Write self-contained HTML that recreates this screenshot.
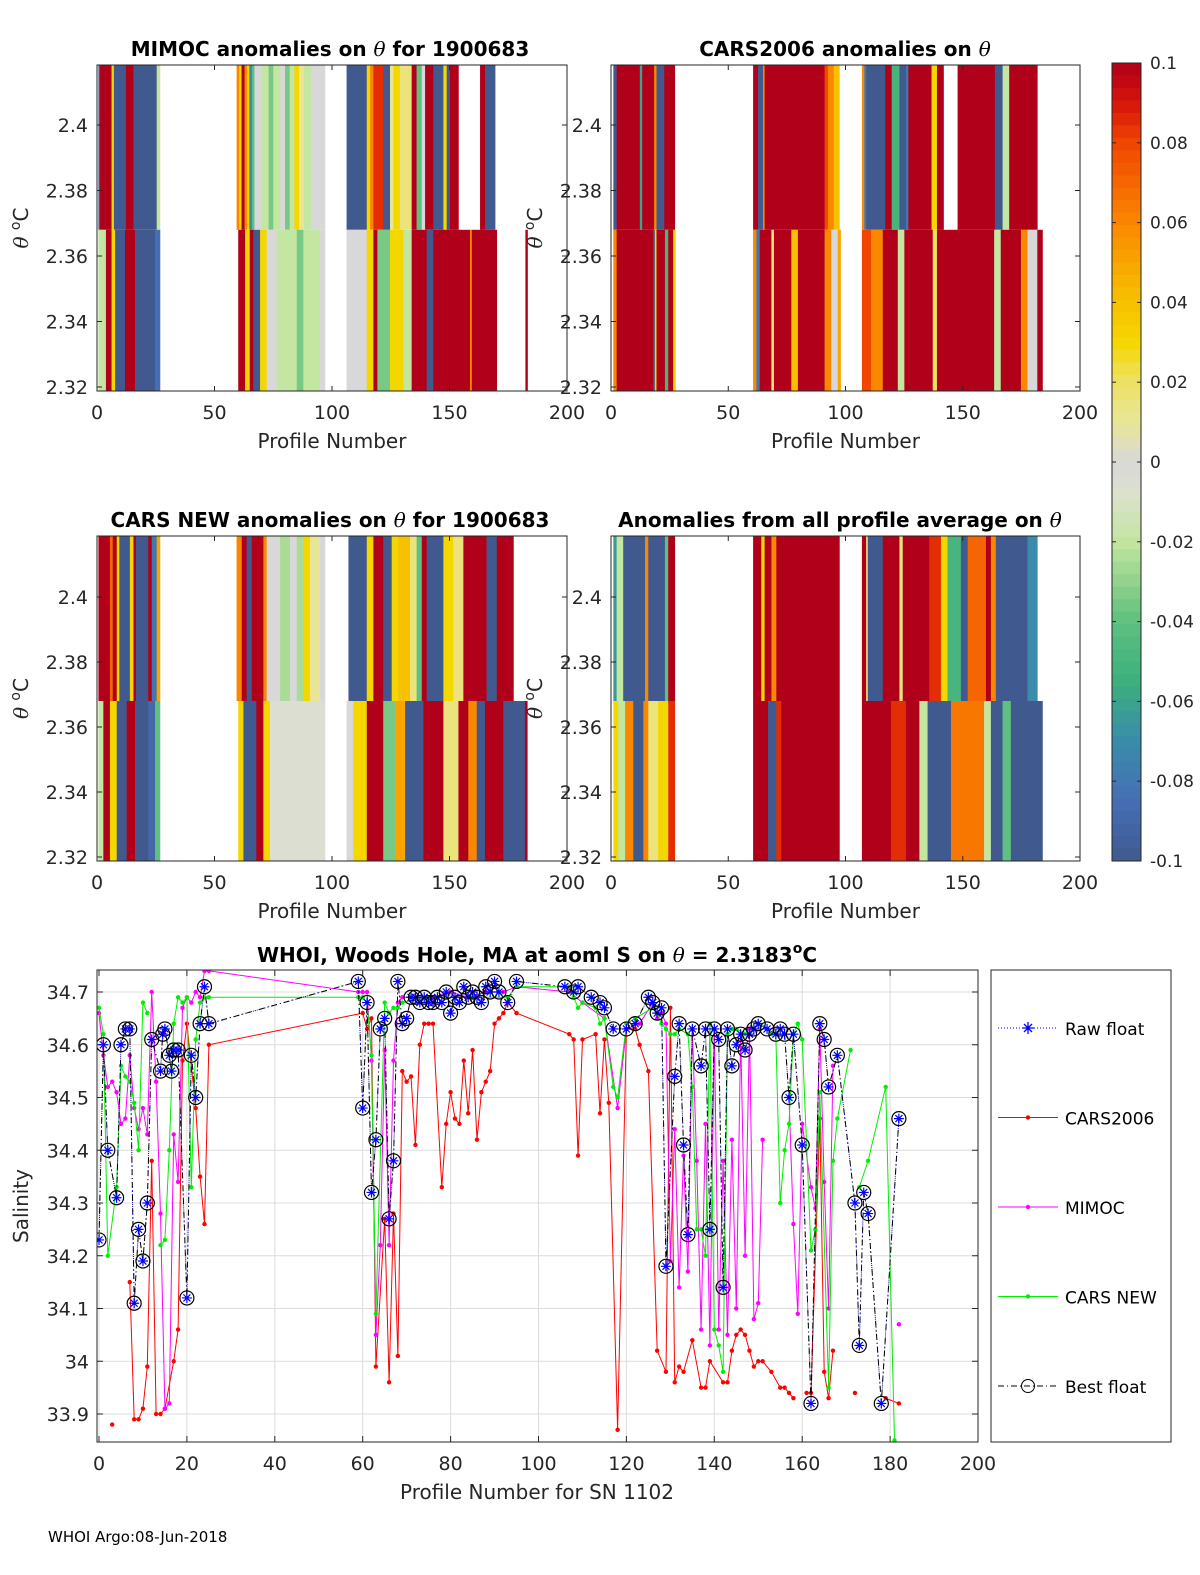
<!DOCTYPE html>
<html><head><meta charset="utf-8"><style>
body{margin:0;background:#fff;}
svg{display:block;font-family:"DejaVu Sans","Liberation Sans",sans-serif;}
</style></head><body>
<svg id="fig" width="1200" height="1575" viewBox="0 0 1200 1575" xmlns="http://www.w3.org/2000/svg">
<g id="g"></g>
<text x="48" y="1542" font-size="15" fill="#000">WHOI Argo:08-Jun-2018</text>
</svg>
<script>
// ---------- heatmap data: [startProfile, endProfile, anomaly] ----------
const mimocTop=[[0.6,1.3,-0.1],[1.3,6.2,0.1],[6.2,7.2,0.03],[7.2,12.3,-0.1],[12.3,15.5,0.1],[15.5,25.4,-0.1],[25.4,26.8,-0.02],
[59.4,60.5,0.06],[60.5,61.5,0.03],[61.5,62.8,0.1],[62.8,63.8,0.06],[63.8,64.8,0.03],[64.8,66,-0.07],[66,67,-0.04],[67,70,0],[70,73,-0.02],[73,75,-0.035],[75,78,-0.02],[78,80,0],[80,82,-0.035],[82,84,-0.02],[84,86,0.03],[86,88,0.01],[88,91,-0.02],[91,97,0],
[106.2,114.8,-0.1],[114.8,116.2,0.03],[116.2,117.6,0.06],[117.6,121.8,0.085],[121.8,124.7,-0.1],[124.7,126.1,0.01],[126.1,128.9,0.03],[128.9,133.9,0.015],[133.9,136,0.1],[136,138.2,-0.04],[138.2,139.6,0],[139.6,143.1,0.1],[143.1,147.4,-0.1],[147.4,148.8,0.03],[148.8,150.2,-0.1],[150.2,153.8,0.1],[163,165.1,0.1],[165.1,169.4,-0.1]];
const mimocBot=[[0.6,3.8,-0.02],[3.8,6.2,0.1],[6.2,7.7,0.03],[7.7,11.9,-0.1],[11.9,16.2,0.1],[16.2,24.7,-0.1],[24.7,26.8,-0.085],
[60.1,63,0.1],[63,65,0.03],[65,66.5,0.1],[66.5,69.4,-0.1],[69.4,72.2,0.03],[72.2,76.5,0],[76.5,85,-0.02],[85,87.8,-0.035],[87.8,94.9,-0.02],[94.9,97,0],
[106.2,114.8,0],[114.8,117.6,0.03],[117.6,119.3,0.1],[119.3,124.7,-0.035],[124.7,130.4,0.03],[130.4,133.9,-0.02],[133.9,140.3,0.1],[140.3,143.1,-0.1],[143.1,147.4,0.1],[147.4,158.7,0.1],[158.7,159.5,0.06],[159.5,170.1,0.1],[182.3,183.2,0.1]];
const cars06Top=[[1,2.4,-0.1],[2.4,12.3,0.1],[12.3,13.3,-0.06],[13.3,18.4,0.1],[18.4,19.4,0.06],[19.4,22.7,-0.1],[22.7,27.2,0.1],
[60.6,62.7,0.1],[62.7,64.8,-0.1],[64.8,65.5,0.06],[65.5,91.1,0.1],[91.1,92.5,0.08],[92.5,95,0.06],[95,97.4,0.04],
[107,108,0.06],[108,108.8,-0.08],[108.8,116.9,-0.1],[116.9,119.7,0.1],[119.7,123,-0.05],[123,125.8,-0.1],[125.8,126.8,-0.08],[126.8,136.7,0.1],[136.7,139,0.03],[139,141.8,0.1],[147.8,163.7,0.1],[163.7,167,-0.1],[167,169.8,-0.02],[169.8,181.8,0.1]];
const cars06Bot=[[1,2.4,0.06],[2.4,18,0.1],[18,18.7,-0.1],[18.7,19.4,0.03],[19.4,23,0.1],[23,24.4,-0.05],[24.4,26.5,0.1],[26.5,27.5,0.03],
[60.6,62,0.06],[62,63.4,-0.08],[63.4,68.4,0.1],[68.4,69.5,0.015],[69.5,76.9,0.1],[76.9,79.7,0.04],[79.7,91.1,0.1],[91.1,93.9,0.06],[93.9,96.7,0],[96.7,97.9,0.05],
[107,110.9,0.08],[110.9,115.9,0.06],[115.9,122.3,0.1],[122.3,125.1,-0.02],[125.1,137.2,0.1],[137.2,139,0.02],[139,163.4,0.1],[163.4,166.2,-0.02],[166.2,174.8,0.1],[174.8,177.6,0.06],[177.6,181.8,0],[181.8,184,0.1]];
const carsNewTop=[[0.6,5.5,0.1],[5.5,6.7,0.07],[6.7,8.4,0.1],[8.4,9.5,0.03],[9.5,14,-0.1],[14,15.5,0.03],[15.5,16.6,0.1],[16.6,21.8,-0.1],[21.8,23.3,0.1],[23.3,25.4,-0.08],[25.4,26.8,0.05],
[59.4,61.6,0.06],[61.6,63.7,0.1],[63.7,65.8,-0.1],[65.8,70.8,0.1],[70.8,72.2,0.06],[72.2,77.9,0],[77.9,82.1,-0.025],[82.1,85,0],[85,87.8,-0.025],[87.8,90.6,0.03],[90.6,94.9,0.01],[94.9,97,0],
[107,114.8,-0.1],[114.8,117.6,0.03],[117.6,121.8,0.1],[121.8,125.4,-0.1],[125.4,128.2,0.03],[128.2,133.2,0.04],[133.2,136,0.015],[136,138.2,-0.04],[138.2,140.3,0.1],[140.3,147.4,-0.1],[147.4,151.6,0.03],[151.6,155.9,0.015],[155.9,165.8,0.1],[165.8,170.1,-0.1],[170.1,177.2,0.1]];
const carsNewBot=[[0.6,2.7,-0.02],[2.7,5.5,0.1],[5.5,8.4,0.03],[8.4,12.6,-0.1],[12.6,16.2,0.1],[16.2,21.8,-0.1],[21.8,24.7,-0.09],[24.7,26.8,-0.04],
[60.1,62.3,0.03],[62.3,67.8,-0.1],[67.8,70.8,0.1],[70.8,73.6,0.03],[73.6,97,-0.005],
[106.2,109.1,0],[109.1,114.8,0.03],[114.8,121.8,0.1],[121.8,126.8,-0.035],[126.8,131.1,0.05],[131.1,138.9,-0.1],[138.9,147.4,0.1],[147.4,153.8,0.015],[153.8,158,0.1],[158,161.6,0.06],[161.6,165.1,-0.1],[165.1,172.9,0.1],[172.9,182.1,-0.1],[182.1,183.1,0.1]];
const allTop=[[1,2.4,-0.065],[2.4,5.2,-0.02],[5.2,9.5,-0.1],[9.5,14.5,-0.1],[14.5,15.9,0.06],[15.9,23,-0.1],[23,24.4,-0.04],[24.4,27.2,0.1],
[60.6,64.1,0.1],[64.1,65.5,0.03],[65.5,68.4,0.1],[68.4,70.5,0.06],[70.5,97.4,0.1],
[107,108.8,0.1],[108.8,109.5,0.015],[109.5,115.9,-0.1],[115.9,123,0.1],[123,124.4,0.015],[124.4,135.7,0.1],[135.7,140.7,0.085],[140.7,143.5,0.03],[143.5,149.2,-0.05],[149.2,152.1,-0.1],[152.1,159.9,0.07],[159.9,162,0.1],[162,164.1,0.06],[164.1,170.5,-0.1],[170.5,177.6,-0.1],[177.6,181.8,-0.07]];
const allBot=[[1,3.1,0.03],[3.1,6,-0.02],[6,9.5,0.06],[9.5,13.8,-0.1],[13.8,15.9,0.06],[15.9,20.1,0.015],[20.1,24.4,0.03],[24.4,27.2,0.085],
[60.6,67,0.1],[67,70.5,-0.1],[70.5,72.6,0.085],[72.6,97.4,0.1],
[107,119.4,0.1],[119.4,125.8,0.085],[125.8,131.5,0.1],[131.5,135,-0.02],[135,145,-0.1],[145,159.1,0.065],[159.1,162,-0.02],[162,167,-0.1],[167,170.5,-0.04],[170.5,184,-0.1]];

// ---------- salinity data: [profile, salinity] ----------
const bestFloat=[[0,34.23],[1,34.6],[2,34.40],[4,34.31],[5,34.60],[6,34.63],[7,34.63],[8,34.11],[9,34.25],[10,34.19],[11,34.30],[12,34.61],[14,34.55],[14.5,34.62],[15,34.63],[16,34.58],[16.5,34.55],[17,34.59],[18,34.59],[20,34.12],[21,34.58],[22,34.50],[23,34.64],[24,34.71],[25,34.64],[59,34.72],[60,34.48],[61,34.68],[62,34.32],[63,34.42],[64,34.63],[65,34.65],[66,34.27],[67,34.38],[68,34.72],[69,34.64],[70,34.65],[71,34.69],[72,34.69],[73,34.68],[74,34.69],[75,34.68],[76,34.68],[77,34.69],[78,34.68],[79,34.70],[80,34.66],[81,34.69],[82,34.68],[83,34.71],[84,34.69],[85,34.70],[86,34.69],[87,34.68],[88,34.71],[89,34.70],[90,34.72],[91,34.70],[93,34.68],[95,34.72],[106,34.71],[108,34.70],[109,34.71],[112,34.69],[114,34.68],[115,34.67],[117,34.63],[120,34.63],[122,34.64],[125,34.69],[126,34.68],[127,34.66],[128,34.67],[129,34.18],[131,34.54],[132,34.64],[133,34.41],[134,34.24],[135,34.63],[137,34.56],[138,34.63],[139,34.25],[140,34.63],[141,34.61],[142,34.14],[143,34.63],[144,34.56],[145,34.60],[146,34.62],[147,34.59],[148,34.62],[149,34.63],[150,34.64],[152,34.63],[154,34.62],[155,34.63],[156,34.62],[157,34.50],[158,34.62],[160,34.41],[162,33.92],[164,34.64],[165,34.61],[166,34.52],[168,34.58],[172,34.30],[173,34.03],[174,34.32],[175,34.28],[178,33.92],[182,34.46]];
const cars2006=[[3,33.88],null,[7,34.15],[8,33.89],[9,33.89],[10,33.91],[11,33.99],[12,34.38],[13,33.90],[14,33.90],[15,33.91],[17,34.00],[18,34.06],[19,34.57],[20,34.64],[22,34.48],[23,34.35],[24,34.26],[25,34.60],[60,34.66],[61,34.63],[62,34.65],[63,33.99],[65,34.27],[66,33.96],[67,34.28],[68,34.01],[69,34.55],[70,34.53],[71,34.54],[72,34.41],[73,34.60],[74,34.64],[75,34.64],[76,34.64],[78,34.33],[79,34.45],[80,34.51],[81,34.46],[82,34.45],[83,34.57],[84,34.47],[85,34.59],[86,34.42],[87,34.51],[88,34.53],[89,34.55],[90,34.64],[91,34.65],[92,34.66],[93,34.68],[95,34.66],[107,34.62],[108,34.61],[109,34.39],[110,34.61],[113,34.62],[114,34.47],[115,34.61],[116,34.49],[118,33.87],[120,34.63],[122,34.63],[123,34.60],[125,34.55],[127,34.02],[129,33.98],[130,34.67],[131,33.96],[132,33.99],[133,33.98],[135,34.04],[137,33.95],[138,33.95],[139,34.00],[142,33.96],[143,33.96],[144,34.02],[145,34.05],[146,34.06],[147,34.05],[148,34.02],[149,33.99],[150,34.00],[151,34.00],[153,33.98],[155,33.95],[156,33.95],[157,33.94],[158,33.93],null,[161,33.94],[162,33.94],[164,34.46],[165,33.98],[166,33.93],[167,34.02],null,[172,33.94],null,[179,33.93],[182,33.92]];
const mimoc=[[0,34.66],[1,34.58],[2,34.52],[3,34.53],[4,34.51],[5,34.45],[6,34.46],[7,34.58],[8,34.48],[9,34.44],[10,34.48],[11,34.43],[12,34.70],[13,34.53],[14,34.28],[15,33.91],[16,33.92],[17,34.43],[18,34.34],[19,34.67],[20,34.69],[21,34.68],[22,34.70],[23,34.69],[24,34.74],[25,34.74],[59,34.70],[60,34.70],[61,34.70],[62,34.57],[63,34.05],[64,34.22],[65,34.59],[66,34.22],[67,34.57],[68,34.68],[69,34.69],[72,34.69],[76,34.69],[80,34.70],[84,34.69],[88,34.70],[92,34.70],[95,34.71],[107,34.70],[110,34.68],[115,34.65],[118,34.48],[120,34.63],[123,34.64],[126,34.68],[127,34.65],[128,34.66],[129,34.64],[130,34.19],[131,34.44],[132,34.14],[133,34.39],[134,34.17],[135,34.63],[136,34.38],[137,34.06],[138,34.45],[139,34.03],[140,34.63],[141,34.06],[142,34.38],[143,34.05],[144,34.42],[145,34.10],[146,34.62],[147,34.20],[148,34.63],[149,34.08],[150,34.11],[151,34.42],null,[157,34.50],[158,34.26],[159,34.09],[160,34.45],[162,34.33],[163,34.29],[164,34.63],[165,34.34],[166,34.10],[167,34.56],null,[182,34.07]];
const carsNew=[[0,34.67],[1,34.62],[2,34.20],[4,34.33],[5,34.56],[6,34.54],[7,34.53],[8,34.49],[9,34.40],[10,34.68],[11,34.66],null,[14,34.22],[15,34.23],[16,34.40],[17,34.64],[18,34.69],[19,34.68],[20,34.69],[21,34.33],[22,34.61],[23,34.68],[24,34.69],[25,34.69],[59,34.69],[60,34.69],[61,34.68],[62,34.58],[63,34.09],[65,34.68],[66,34.66],[67,34.67],[68,34.67],[69,34.68],[75,34.69],[85,34.69],[93,34.69],[95,34.71],[107,34.71],[108,34.69],[109,34.67],[110,34.68],[113,34.67],[114,34.64],[115,34.65],[117,34.52],[118,34.50],[120,34.64],[122,34.65],[126,34.67],[127,34.66],[128,34.64],[129,34.63],[130,34.62],[131,34.62],[132,34.63],[134,34.62],[135,34.52],[136,34.25],[137,34.25],[138,34.20],[139,34.64],[140,34.06],[141,34.03],[142,33.98],[143,34.62],[144,34.63],[145,34.63],[147,34.62],[149,34.63],[150,34.64],[152,34.63],[153,34.62],[154,34.62],[155,34.30],[156,34.40],[157,34.45],[158,34.62],[159,34.64],[160,34.61],[162,34.21],[163,34.25],[164,34.51],[166,33.95],[167,34.38],[168,34.46],[171,34.59],null,[173,34.33],[175,34.38],[179,34.52],[181,33.85]];
const cbTicks=[0.1,0.08,0.06,0.04,0.02,0,-0.02,-0.04,-0.06,-0.08,-0.1];
const salTicks=[34.7,34.6,34.5,34.4,34.3,34.2,34.1,34,33.9];
const profTicks=[0,20,40,60,80,100,120,140,160,180,200];
const thetaTicks=[2.32,2.34,2.36,2.38,2.4];
const hmXTicks=[0,50,100,150,200];

const NS='http://www.w3.org/2000/svg';
const G=document.getElementById('g');
function mk(tag,attrs,parent,txt){const e=document.createElementNS(NS,tag);for(const k in attrs)e.setAttribute(k,attrs[k]);if(txt!==undefined)e.textContent=txt;(parent||G).appendChild(e);return e;}

const stops=[[-0.1,[64,90,143]],[-0.085,[70,110,180]],[-0.07,[58,140,170]],[-0.055,[60,176,125]],[-0.04,[95,192,128]],[-0.03,[145,210,140]],[-0.02,[195,230,160]],[-0.008,[220,225,205]],[0,[216,216,216]],[0.01,[232,230,150]],[0.02,[238,225,100]],[0.03,[245,215,0]],[0.045,[248,180,0]],[0.06,[250,135,0]],[0.08,[240,70,0]],[0.09,[215,20,10]],[0.1,[176,0,26]]];
function cmap(v){v=Math.max(-0.1,Math.min(0.1,v));for(let i=1;i<stops.length;i++){if(v<=stops[i][0]){const a=stops[i-1],b=stops[i];const t=(v-a[0])/(b[0]-a[0]);const c=a[1].map((x,j)=>Math.round(x+(b[1][j]-x)*t));return 'rgb('+c.join(',')+')';}}return 'rgb(176,0,26)';}

function heat(id,x0,x1,top,bot,y232,y24,tData,bData,title,titleX,xlab,ylabX){
  const sx=p=>x0+(x1-x0)*p/200;
  const sy=t=>y232-(t-2.32)*(y232-y24)/0.08;
  const g=mk('g',{});
  
  
  const mid=sy(2.368);
  tData.forEach(s=>{const r=mk('rect',{x:sx(s[0]),y:top,width:sx(s[1])-sx(s[0])+0.3,height:mid-top,fill:cmap(s[2])},g);
    });
  bData.forEach(s=>{const r=mk('rect',{x:sx(s[0]),y:mid,width:sx(s[1])-sx(s[0])+0.3,height:bot-mid,fill:cmap(s[2])},g);
    });
  const fr=mk('rect',{x:x0,y:top,width:x1-x0,height:bot-top,fill:'none',stroke:'#262626','stroke-width':1},g);
  
  thetaTicks.forEach(t=>{const y=sy(t);mk('line',{x1:x0,x2:x0+5,y1:y,y2:y,stroke:'#262626'},g);mk('line',{x1:x1,x2:x1-5,y1:y,y2:y,stroke:'#262626'},g);
    const tl=mk('text',{x:x0-9,y:y+7,'font-size':19,'text-anchor':'end',fill:'#262626'},g,String(t));
    });
  hmXTicks.forEach(t=>{const x=sx(t);mk('line',{x1:x,x2:x,y1:bot,y2:bot-5,stroke:'#262626'},g);mk('line',{x1:x,x2:x,y1:top,y2:top+5,stroke:'#262626'},g);
    const tl=mk('text',{x:x,y:bot+28,'font-size':19,'text-anchor':'middle',fill:'#262626'},g,String(t));
    });
  const tt=mk('text',{x:titleX,y:top-9,'font-size':20,'font-weight':'bold','text-anchor':'middle',fill:'#000'},g);
  tt.innerHTML=title;
  
  const xl=mk('text',{x:(x0+x1)/2,y:bot+57,'font-size':20,'text-anchor':'middle',fill:'#262626'},g,xlab);
  
  const yl=mk('text',{x:0,y:0,'font-size':20,'text-anchor':'middle',fill:'#262626',transform:'translate('+ylabX+','+((top+bot)/2)+') rotate(-90)'},g);
  yl.innerHTML='<tspan font-family="DejaVu Serif" font-style="italic">θ</tspan> <tspan font-size="14" dy="-8">o</tspan><tspan dy="8">C</tspan>';
  
}
const th='<tspan font-family="DejaVu Serif" font-style="italic" font-weight="normal">θ</tspan>';
heat('mimoc',97,567,65,391,387,125,mimocTop,mimocBot,'MIMOC anomalies on '+th+'  for 1900683',330,'Profile Number',28);
heat('cars2006',611,1080,65,391,387,125,cars06Top,cars06Bot,'CARS2006 anomalies on '+th,845,'Profile Number',542);
heat('carsnew',97,567,536,861,857,597,carsNewTop,carsNewBot,'CARS NEW anomalies on '+th+' for 1900683',330,'Profile Number',28);
heat('allavg',611,1080,536,861,857,597,allTop,allBot,'Anomalies from all profile average on '+th,840,'Profile Number',542);

// colorbar
(function(){
  const g=mk('g',{});
  const x=1112,w=29,t=63,b=861,n=64;
  for(let i=0;i<n;i++){const v=0.1-0.2*(i+0.5)/n;mk('rect',{x:x,y:t+(b-t)*i/n,width:w,height:(b-t)/n+0.5,fill:cmap(v)},g);}
  mk('rect',{x:x,y:t,width:w,height:b-t,fill:'none',stroke:'#262626'},g);
  cbTicks.forEach(v=>{const y=t+(0.1-v)/0.2*(b-t);mk('line',{x1:x+w,x2:x+w-4,y1:y,y2:y,stroke:'#262626'},g);mk('line',{x1:x,x2:x+4,y1:y,y2:y,stroke:'#262626'},g);
    const tl=mk('text',{x:1150,y:y+6,'font-size':17,fill:'#262626'},g,String(v));});
})();

// salinity plot
(function(){
  const x0=97,x1=978,top=970,bot=1442;
  const sx=p=>99+p*(978-99)/200;
  const sy=s=>992+(34.7-s)*527.5;
  const g=mk('g',{});
  const defs=mk('clipPath',{id:'cp'},g);mk('rect',{x:x0,y:top,width:x1-x0,height:bot-top},defs);
  profTicks.forEach(t=>{const x=sx(t);mk('line',{x1:x,x2:x,y1:top,y2:bot,stroke:'#dcdcdc'},g);
    mk('line',{x1:x,x2:x,y1:bot,y2:bot-6,stroke:'#262626'},g);mk('line',{x1:x,x2:x,y1:top,y2:top+6,stroke:'#262626'},g);
    const tl=mk('text',{x:x,y:bot+28,'font-size':19,'text-anchor':'middle',fill:'#262626'},g,String(t));});
  salTicks.forEach(t=>{const y=sy(t);mk('line',{x1:x0,x2:x1,y1:y,y2:y,stroke:'#dcdcdc'},g);
    mk('line',{x1:x0,x2:x0+6,y1:y,y2:y,stroke:'#262626'},g);mk('line',{x1:x1,x2:x1-6,y1:y,y2:y,stroke:'#262626'},g);
    const tl=mk('text',{x:x0-8,y:y+7,'font-size':19,'text-anchor':'end',fill:'#262626'},g,String(t));});
  const pg=mk('g',{'clip-path':'url(#cp)'},g);
  function series(data,color,name){
    const sg=mk('g',{},pg);
    let d='',pen=false;data.forEach(p=>{if(!p){pen=false;return;}d+=(pen?'L':'M')+sx(p[0]).toFixed(1)+' '+sy(p[1]).toFixed(1);pen=true;});
    mk('path',{d:d,fill:'none',stroke:color,'stroke-width':1},sg);
    data.forEach(p=>{if(!p)return;const c=mk('circle',{cx:sx(p[0]),cy:sy(p[1]),r:2.2,fill:color},sg);});
  }
  series(cars2006,'#ff0000','cars2006');
  series(mimoc,'#ff00ff','mimoc');
  series(carsNew,'#00ee00','cars-new');
  const bg=mk('g',{},pg);
  let d='';bestFloat.forEach((p,i)=>{d+=(i?'L':'M')+sx(p[0]).toFixed(1)+' '+sy(p[1]).toFixed(1);});
  mk('path',{d:d,fill:'none',stroke:'#0000ff','stroke-width':1,'stroke-dasharray':'1 3'},bg);
  mk('path',{d:d,fill:'none',stroke:'#000','stroke-width':1,'stroke-dasharray':'6 3 1 3'},bg);
  bestFloat.forEach(p=>{const x=sx(p[0]),y=sy(p[1]);
    const c=mk('circle',{cx:x,cy:y,r:7,fill:'none',stroke:'#000','stroke-width':1.2},bg);
    mk('path',{d:`M${x-5} ${y}H${x+5}M${x} ${y-5}V${y+5}M${x-3.5} ${y-3.5}L${x+3.5} ${y+3.5}M${x-3.5} ${y+3.5}L${x+3.5} ${y-3.5}`,stroke:'#0000ff','stroke-width':1.2},bg);});
  mk('rect',{x:x0,y:top,width:x1-x0,height:bot-top,fill:'none',stroke:'#262626'},g);
  const tt=mk('text',{x:537,y:962,'font-size':20,'font-weight':'bold','text-anchor':'middle',fill:'#000'},g);
  
  tt.innerHTML='WHOI, Woods Hole, MA at aoml S on '+th+' = 2.3183<tspan font-size="14" dy="-9">o</tspan><tspan dy="9">C</tspan>';
  const xl=mk('text',{x:537,y:1499,'font-size':20,'text-anchor':'middle',fill:'#262626'},g,'Profile Number for SN 1102');
  
  const yl=mk('text',{x:0,y:0,'font-size':20,'text-anchor':'middle',fill:'#262626',transform:'translate(28,1206) rotate(-90)'},g,'Salinity');
  
  // legend
  const lg=mk('g',{},g);
  mk('rect',{x:991,y:970,width:180,height:472,fill:'#fff',stroke:'#262626'},lg);
  const ents=[['Raw float','#0000ff','raw'],['CARS2006','#ff0000','dot'],['MIMOC','#ff00ff','dot'],['CARS NEW','#00ee00','dot'],['Best float','#000','best']];
  ents.forEach((e,i)=>{const y=1028+i*89.5;const eg=mk('g',{},lg);
    if(e[2]==='raw'){mk('line',{x1:998,x2:1058,y1:y,y2:y,stroke:'#0000ff','stroke-dasharray':'1 2'},eg);mk('path',{d:`M1022 ${y}H1034M1028 ${y-6}V${y+6}M1024 ${y-4}L1032 ${y+4}M1024 ${y+4}L1032 ${y-4}`,stroke:'#0000ff','stroke-width':1.3},eg);}
    else if(e[2]==='dot'){mk('line',{x1:998,x2:1058,y1:y,y2:y,stroke:e[1]},eg);mk('circle',{cx:1028,cy:y,r:2.2,fill:e[1]},eg);}
    else{mk('line',{x1:998,x2:1058,y1:y,y2:y,stroke:'#000','stroke-dasharray':'6 3 1 3'},eg);mk('circle',{cx:1028,cy:y,r:6.5,fill:'none',stroke:'#000'},eg);}
    mk('text',{x:1065,y:y+7,'font-size':17,fill:'#000'},eg,e[0]);});
})();
</script>
</body></html>
